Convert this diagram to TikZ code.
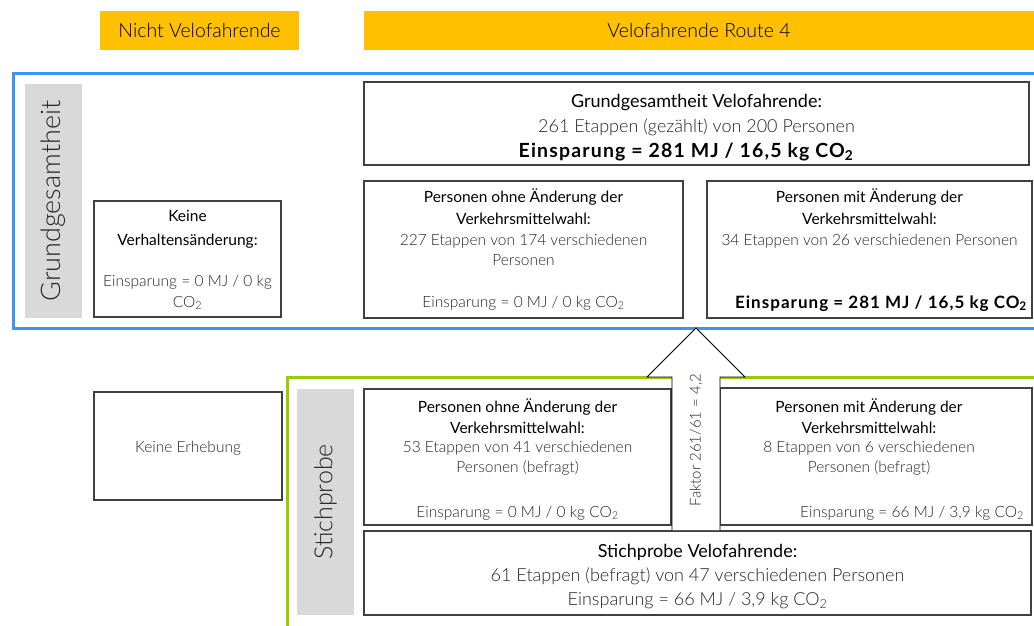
\documentclass[tikz,border=0pt]{standalone}
\usepackage{fontspec}
\setmainfont{Lato}
\newfontfamily\lt{Lato Light}
\newfontfamily\bsp{Lato}[LetterSpace=6]
\definecolor{yel}{HTML}{FFC000}
\definecolor{blu}{HTML}{3C96F0}
\definecolor{grn}{HTML}{99CC00}
\definecolor{lgray}{HTML}{D9D9D9}
\definecolor{bd}{HTML}{404040}
\definecolor{tx}{HTML}{262626}
\begin{document}
\begin{tikzpicture}[x=1pt,y=-1pt,
  hdr/.style={fill=yel, inner sep=0pt, font=\fontsize{19.5}{22}\selectfont\lt, text=black},
  box/.style={draw=bd, line width=1.1pt, fill=white, inner sep=0pt},
  lbl/.style={fill=lgray, inner sep=0pt, text=tx},
  ti/.style={anchor=base, inner sep=0pt, text=black, font=\fontsize{15.5}{18}\selectfont},
  bo/.style={anchor=base, inner sep=0pt, text=tx, font=\fontsize{15.5}{18}\selectfont\lt},
  bb/.style={anchor=base, inner sep=0pt, text=black, font=\fontsize{17}{20}\selectfont\bsp\bfseries},
  tiL/.style={anchor=base, inner sep=0pt, text=black, font=\fontsize{18}{21}\selectfont},
  boL/.style={anchor=base, inner sep=0pt, text=tx, font=\fontsize{18}{21}\selectfont\lt},
  bbL/.style={anchor=base, inner sep=0pt, text=black, font=\fontsize{19.5}{22}\selectfont\bsp\bfseries}]
\useasboundingbox (0,0) rectangle (1034,626);
\fill[white] (0,0) rectangle (1034,626);

% headers
\node[hdr, minimum width=199pt, minimum height=39pt] (h1) at (199.5,30.5) {Nicht Velofahrende};
\node[hdr, minimum width=670pt, minimum height=39pt] (h2) at (699,30.5) {Velofahrende Route 4};

% blue frame
\draw[blu, line width=3pt] (1040,74) -- (13,74) -- (13,328) -- (1040,328);

% labels
\node[lbl, rotate=90, minimum width=234pt, minimum height=57pt, font=\fontsize{27}{31}\selectfont\lt] (gg) at (53.5,201) {Grundgesamtheit};

% Grundgesamtheit boxes
\node[box, minimum width=665pt, minimum height=83pt] (gv) at (696.5,123.5) {};
\node[tiL] (gv1) at (696.5,107) {Grundgesamtheit Velofahrende:};
\node[boL] (gv2) at (696.5,132) {261 Etappen (gezählt) von 200 Personen};
\node[bbL] (gv3) at (686,157) {Einsparung = 281 MJ / 16,5 kg CO\textsubscript{2}};

\node[box, minimum width=187pt, minimum height=116pt] (kv) at (187.5,259) {};
\node[ti] (kv1) at (187.5,221) {Keine};
\node[ti] (kv2) at (187.5,245) {Verhaltensänderung:};
\node[bo] (kv3) at (187.5,286) {Einsparung = 0 MJ / 0 kg};
\node[bo] (kv4) at (187.5,307) {CO\textsubscript{2}};

\node[box, minimum width=319pt, minimum height=137pt] (go) at (523.5,249.5) {};
\node[ti] (go1) at (523.5,202) {Personen ohne Änderung der};
\node[ti] (go2) at (523.5,224) {Verkehrsmittelwahl:};
\node[bo] (go3) at (523.5,245) {227 Etappen von 174 verschiedenen};
\node[bo] (go4) at (523.5,265) {Personen};
\node[bo] (go5) at (523.5,307) {Einsparung = 0 MJ / 0 kg CO\textsubscript{2}};

\node[box, minimum width=325pt, minimum height=137pt] (gm) at (869.5,249.5) {};
\node[ti] (gm1) at (869.5,202) {Personen mit Änderung der};
\node[ti] (gm2) at (869.5,224) {Verkehrsmittelwahl:};
\node[bo] (gm3) at (869.5,245) {34 Etappen von 26 verschiedenen Personen};
\node[bb] (gm5) at (881,308) {Einsparung = 281 MJ / 16,5 kg CO\textsubscript{2}};

% green frame
\draw[grn, line width=3pt] (287,640) -- (287,377) -- (1040,377);

\node[lbl, rotate=90, minimum width=226pt, minimum height=57pt, font=\fontsize{25}{29}\selectfont\lt] (sp) at (325.5,502) {Stichprobe};

\node[box, minimum width=188pt, minimum height=108pt] (ke) at (188,446) {};
\node[bo] (ke1) at (188,452) {Keine Erhebung};

\node[box, minimum width=307pt, minimum height=136pt] (so) at (517.5,457) {};
\node[ti] (so1) at (517.5,412) {Personen ohne Änderung der};
\node[ti] (so2) at (517.5,433) {Verkehrsmittelwahl:};
\node[bo] (so3) at (517.5,452) {53 Etappen von 41 verschiedenen};
\node[bo] (so4) at (517.5,472) {Personen (befragt)};
\node[bo] (so5) at (517.5,517) {Einsparung = 0 MJ / 0 kg CO\textsubscript{2}};

\node[box, minimum width=312pt, minimum height=137pt] (sm) at (876,456.5) {};
\node[ti] (sm1) at (869,412) {Personen mit Änderung der};
\node[ti] (sm2) at (869,433) {Verkehrsmittelwahl:};
\node[bo] (sm3) at (869,452) {8 Etappen von 6 verschiedenen};
\node[bo] (sm4) at (869,472) {Personen (befragt)};
\node[bo] (sm5) at (912,517) {Einsparung = 66 MJ / 3,9 kg CO\textsubscript{2}};

\node[box, minimum width=667pt, minimum height=84pt] (sv) at (697.5,573) {};
\node[tiL] (sv1) at (697.5,557) {Stichprobe Velofahrende:};
\node[boL] (sv2) at (697.5,581) {61 Etappen (befragt) von 47 verschiedenen Personen};
\node[boL] (sv3) at (697.5,605) {Einsparung = 66 MJ / 3,9 kg CO\textsubscript{2}};

% arrow
\draw[black, line width=0.8pt, fill=white] (672,530) -- (672,377) -- (647,377) -- (696,328) -- (745,377) -- (720,377) -- (720,530);
\node[rotate=90, inner sep=0pt, text=tx, font=\fontsize{15}{18}\selectfont\lt] (fk) at (696,440) {Faktor 261/61 = 4,2};
\end{tikzpicture}
\end{document}
